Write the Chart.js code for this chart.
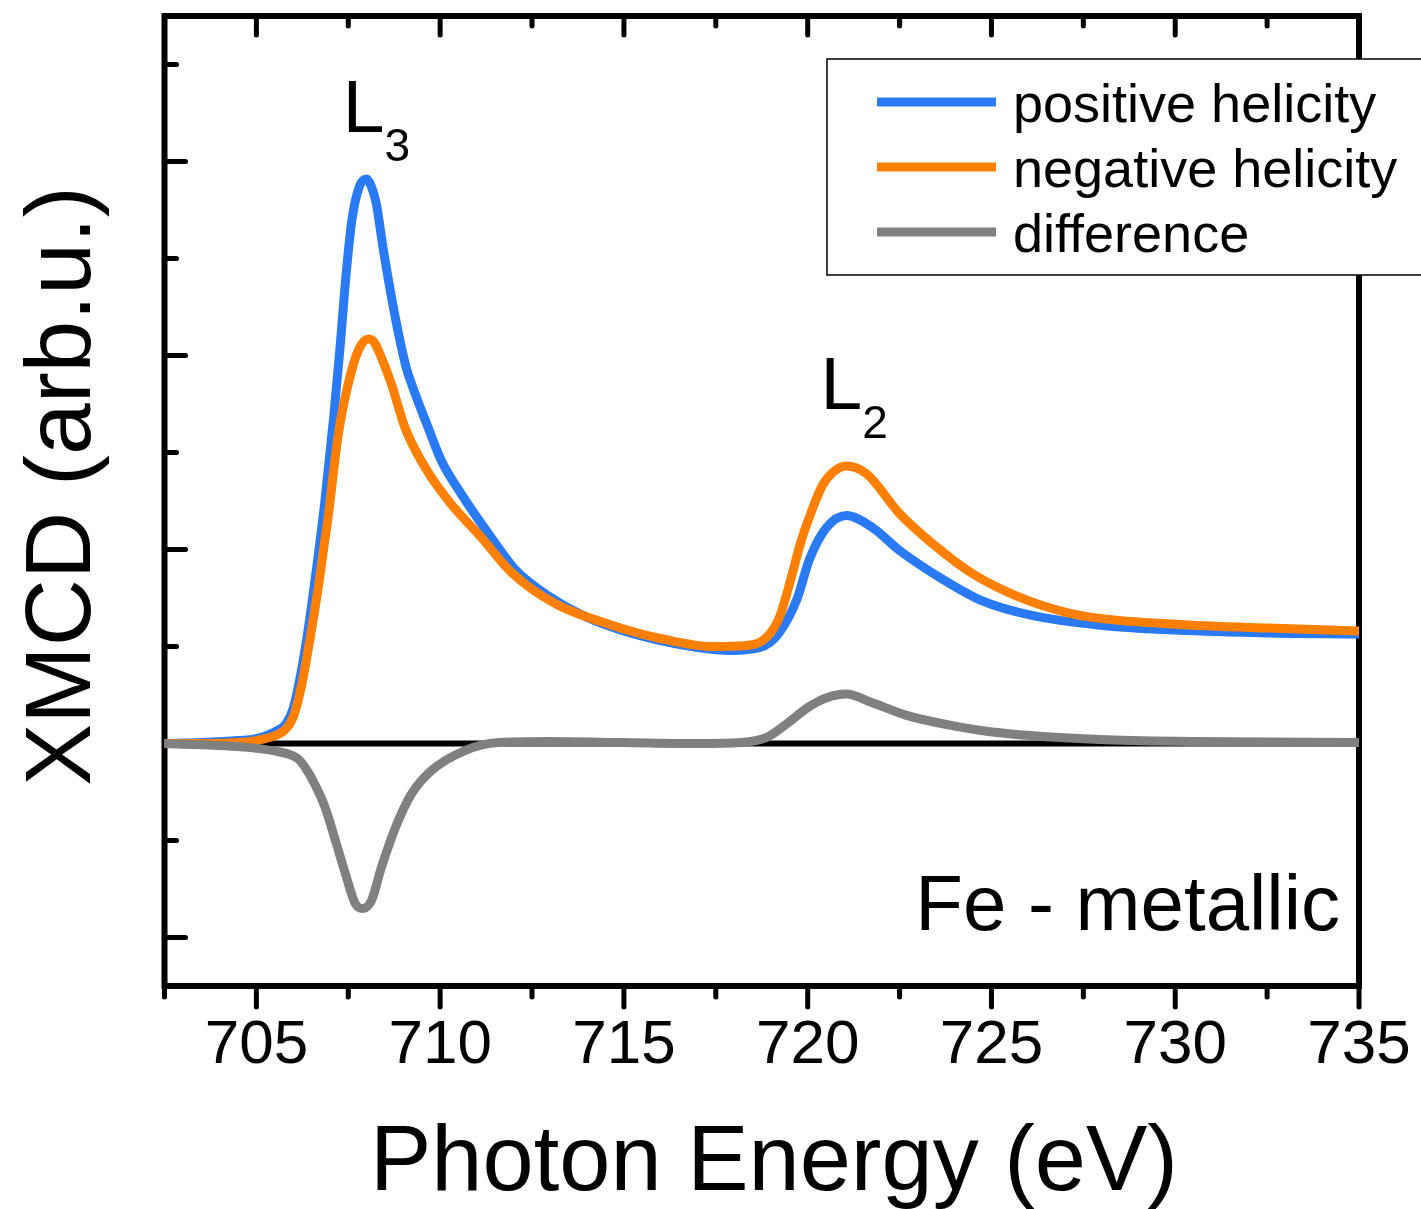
<!DOCTYPE html>
<html>
<head>
<meta charset="utf-8">
<script src="https://cdn.jsdelivr.net/npm/chart.js@4.4.1/dist/chart.umd.min.js"></script>
<style>
  html, body { margin: 0; padding: 0; background: #fff; }
  #wrap { width: 1421px; height: 1209px; }
</style>
</head>
<body>
<div id="wrap"><canvas id="xmcd"></canvas></div>
<script>
// values (photon energy in eV, signal in arb. units)
const positiveEnergy = [702.5, 703.5, 704.5, 705.0, 705.5, 705.8, 706.0, 706.2, 706.4, 706.6,
  706.85, 707.1, 707.28, 707.42, 707.6, 707.8, 708.0, 708.12, 708.26, 708.45,
  708.78, 709.08, 709.22, 709.68, 710.04, 710.58, 711.32, 712.05, 712.95, 714.0,
  715.0, 716.0, 717.0, 717.9, 718.7, 719.2, 719.7, 720.05, 720.5, 721.05,
  721.75, 722.5, 723.6, 724.75, 726.1, 727.95, 730.0, 732.5, 735.0];
const positiveSignal = [0.0, 0.01, 0.03, 0.05, 0.12, 0.2, 0.36, 0.7, 1.15, 1.7,
  2.45, 3.35, 4.1, 4.75, 5.4, 5.74, 5.82, 5.75, 5.57, 5.1,
  4.39, 3.87, 3.71, 3.25, 2.91, 2.57, 2.16, 1.79, 1.52, 1.3,
  1.16, 1.06, 0.99, 0.96, 0.99, 1.13, 1.48, 1.9, 2.22, 2.35,
  2.23, 1.99, 1.71, 1.47, 1.32, 1.22, 1.17, 1.14, 1.13];

const negativeEnergy = [702.5, 703.5, 704.5, 705.0, 705.5, 705.8, 706.0, 706.22, 706.46, 706.7,
  706.95, 707.23, 707.5, 707.77, 708.04, 708.2, 708.4, 708.67, 709.05, 709.6,
  710.23, 711.13, 711.95, 713.14, 714.67, 716.03, 717.4, 718.33, 718.87, 719.23,
  719.58, 719.8, 720.13, 720.4, 720.7, 721.05, 721.6, 722.5, 723.4, 724.49,
  725.69, 727.05, 727.95, 730.0, 732.5, 735.0];
const negativeSignal = [0.0, 0.0, 0.01, 0.03, 0.08, 0.15, 0.27, 0.58, 1.08, 1.65,
  2.33, 3.19, 3.71, 4.05, 4.17, 4.14, 3.98, 3.71, 3.25, 2.84,
  2.5, 2.12, 1.76, 1.44, 1.22, 1.08, 1.0, 1.01, 1.09, 1.3,
  1.75, 2.06, 2.42, 2.66, 2.8, 2.86, 2.78, 2.37, 2.06, 1.75,
  1.52, 1.35, 1.29, 1.23, 1.19, 1.16];

const differenceEnergy = [702.5, 704.77, 705.67, 705.95, 706.14, 706.35, 706.6, 706.87, 707.15, 707.42,
  707.69, 707.9, 708.13, 708.4, 708.78, 709.22, 709.76, 710.69, 711.59, 712.95,
  715.0, 717.0, 718.2, 718.87, 719.42, 720.04, 720.5, 721.05, 721.76, 722.69,
  723.86, 725.22, 727.95, 730.5, 735.0];
const differenceSignal = [0.0, -0.04, -0.09, -0.12, -0.16, -0.26, -0.43, -0.66, -1.0, -1.34,
  -1.65, -1.7, -1.62, -1.28, -0.87, -0.52, -0.28, -0.07, 0.01, 0.02,
  0.01, 0.0, 0.01, 0.06, 0.2, 0.38, 0.47, 0.51, 0.42, 0.29,
  0.19, 0.11, 0.04, 0.02, 0.01];

const seriesLabels = ['positive helicity', 'negative helicity', 'difference'];

const xMajorTicks = [705, 710, 715, 720, 725, 730, 735];
const xMinorTicks = [702.5, 707.5, 712.5, 717.5, 722.5, 727.5, 732.5];
const yMajorTicks = [-2, 0, 2, 4, 6];
const yMinorTicks = [-1, 1, 3, 5, 7];

const FONT = "'Liberation Sans', Arial, Helvetica, sans-serif";
const BLUE = '#2a7af5';
const ORANGE = '#ff8000';
const GREY = '#808080';

const toPoints = (xs, ys) => xs.map((x, i) => ({ x: x, y: ys[i] }));

// box frame, ticks and the zero line, drawn under the curves
const framePlugin = {
  id: 'frame',
  beforeDatasetsDraw(chart) {
    const { ctx, chartArea: a, scales: { x, y } } = chart;
    ctx.save();
    ctx.strokeStyle = '#000';

    ctx.lineWidth = 6;
    ctx.lineCap = 'butt';
    ctx.beginPath();
    ctx.moveTo(a.left, y.getPixelForValue(0));
    ctx.lineTo(a.right, y.getPixelForValue(0));
    ctx.stroke();

    ctx.lineJoin = 'miter';
    ctx.strokeRect(a.left, a.top, a.right - a.left, a.bottom - a.top);

    ctx.lineWidth = 5;
    ctx.lineCap = 'round';
    const tick = (x1, y1, x2, y2) => {
      ctx.beginPath();
      ctx.moveTo(x1, y1);
      ctx.lineTo(x2, y2);
      ctx.stroke();
    };
    xMajorTicks.forEach(v => {
      const px = x.getPixelForValue(v);
      tick(px, a.bottom, px, a.bottom + 21);
      tick(px, a.top, px, a.top + 19);
    });
    xMinorTicks.forEach(v => {
      const px = x.getPixelForValue(v);
      tick(px, a.bottom, px, a.bottom + 11);
      tick(px, a.top, px, a.top + 10);
    });
    yMajorTicks.forEach(v => {
      const py = y.getPixelForValue(v);
      tick(a.left, py, a.left + 21, py);
    });
    yMinorTicks.forEach(v => {
      const py = y.getPixelForValue(v);
      tick(a.left, py, a.left + 12, py);
    });
    ctx.restore();
  },
  afterDraw(chart) {
    const { ctx, scales: { x, y } } = chart;
    ctx.save();

    // legend box
    ctx.fillStyle = '#fff';
    ctx.fillRect(827, 59, 610, 216);
    ctx.strokeStyle = '#000';
    ctx.lineWidth = 1.5;
    ctx.strokeRect(827, 59, 610, 216);
    chart.data.datasets.forEach((ds, i) => {
      const rowY = 102 + i * 65;
      ctx.strokeStyle = ds.borderColor;
      ctx.lineWidth = 9;
      ctx.lineCap = 'butt';
      ctx.beginPath();
      ctx.moveTo(877, rowY);
      ctx.lineTo(996, rowY);
      ctx.stroke();
      ctx.fillStyle = '#000';
      ctx.font = '54px ' + FONT;
      ctx.textAlign = 'left';
      ctx.textBaseline = 'alphabetic';
      ctx.fillText(ds.label, 1013, rowY + 20);
    });

    // edge labels
    ctx.fillStyle = '#000';
    ctx.textBaseline = 'alphabetic';
    ctx.textAlign = 'left';
    const edge = (main, sub, ex, ey) => {
      const px = x.getPixelForValue(ex);
      const py = y.getPixelForValue(ey);
      ctx.font = '75px ' + FONT;
      ctx.fillText(main, px, py);
      const w = ctx.measureText(main).width;
      ctx.font = '46px ' + FONT;
      ctx.fillText(sub, px + w, py + 29);
    };
    edge('L', '3', 707.35, 6.3);
    edge('L', '2', 720.35, 3.45);

    ctx.font = '78px ' + FONT;
    ctx.textAlign = 'right';
    ctx.fillText('Fe - metallic', 1340, 930);

    // axis titles
    ctx.font = '92px ' + FONT;
    ctx.textAlign = 'center';
    ctx.fillText('Photon Energy (eV)', 774, 1190);
    ctx.translate(90, 486);
    ctx.rotate(-Math.PI / 2);
    ctx.font = '93px ' + FONT;
    ctx.fillText('XMCD (arb.u.)', 0, 0);
    ctx.restore();
  }
};

new Chart(document.getElementById('xmcd'), {
  type: 'line',
  data: {
    datasets: [
      { label: seriesLabels[0], data: toPoints(positiveEnergy, positiveSignal), borderColor: BLUE, order: 2 },
      { label: seriesLabels[1], data: toPoints(negativeEnergy, negativeSignal), borderColor: ORANGE, order: 1 },
      { label: seriesLabels[2], data: toPoints(differenceEnergy, differenceSignal), borderColor: GREY, order: 0 }
    ]
  },
  options: {
    responsive: true,
    maintainAspectRatio: false,
    animation: false,
    layout: { padding: { top: 16, right: 62, left: 0, bottom: 0 } },
    elements: {
      point: { radius: 0 },
      line: { borderWidth: 9, cubicInterpolationMode: 'monotone', borderCapStyle: 'round', borderJoinStyle: 'round', fill: false }
    },
    plugins: { legend: { display: false }, tooltip: { enabled: false } },
    scales: {
      x: {
        type: 'linear', min: 702.5, max: 735,
        grid: { display: false, drawTicks: false },
        border: { display: false },
        afterBuildTicks: s => { s.ticks = xMajorTicks.map(v => ({ value: v })); },
        afterFit: s => { s.height = 223; s.paddingLeft = 0; s.paddingRight = 0; },
        ticks: { color: '#000', font: { family: FONT, size: 62, lineHeight: 1.2 }, padding: 23, maxRotation: 0, autoSkip: false }
      },
      y: {
        type: 'linear', min: -2.5, max: 7.5,
        grid: { display: false, drawTicks: false },
        border: { display: false },
        ticks: { display: false },
        afterFit: s => { s.width = 164.5; }
      }
    }
  },
  plugins: [framePlugin]
});
</script>
</body>
</html>
